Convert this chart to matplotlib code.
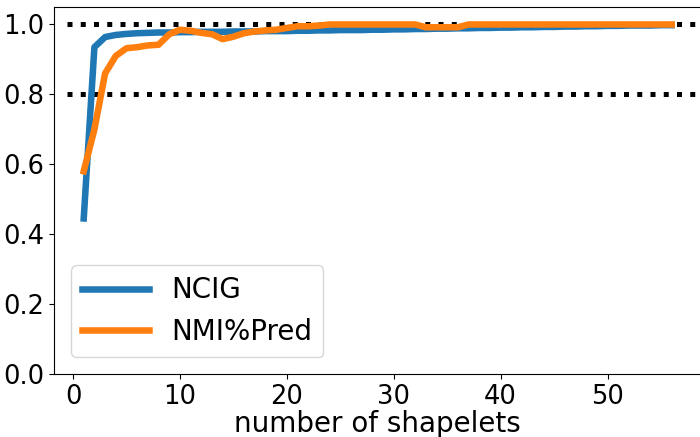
import numpy as np
import matplotlib.pyplot as plt

# число шейплетов
n_shapelets = np.arange(1, 57)

ncig = [0.445, 0.935, 0.964, 0.970, 0.973, 0.975, 0.976, 0.977, 0.977, 0.978,
        0.978, 0.979, 0.979, 0.979, 0.980, 0.980, 0.980, 0.981, 0.981, 0.981,
        0.982, 0.982, 0.983, 0.983, 0.984, 0.984, 0.984, 0.985, 0.985, 0.986,
        0.986, 0.987, 0.987, 0.988, 0.988, 0.989, 0.989, 0.990, 0.990, 0.991,
        0.991, 0.992, 0.992, 0.993, 0.993, 0.994, 0.994, 0.995, 0.995, 0.996,
        0.996, 0.997, 0.997, 0.997, 0.998, 0.998]

nmi_pred = [0.58, 0.70, 0.86, 0.91, 0.932, 0.935, 0.94, 0.942, 0.972, 0.985,
            0.982, 0.976, 0.972, 0.958, 0.965, 0.975, 0.98, 0.983, 0.985, 0.99,
            0.995, 0.995, 0.997, 1.0, 1.0, 1.0, 1.0, 1.0, 1.0, 1.0,
            1.0, 1.0, 0.992, 0.992, 0.992, 0.992, 1.0, 1.0, 1.0, 1.0,
            1.0, 1.0, 1.0, 1.0, 1.0, 1.0, 1.0, 1.0, 1.0, 1.0,
            1.0, 1.0, 1.0, 1.0, 1.0, 1.0]

thresholds = [0.8, 1.0]

fig = plt.figure(figsize=(7, 4.37), dpi=100)
ax = fig.add_axes([0.0776, 0.1442, 0.924, 0.8398])

for t in thresholds:
    ax.axhline(t, xmin=0.02, color='black', linestyle=':', linewidth=3.6)

ax.plot(n_shapelets, ncig, color='#1f77b4', linewidth=4.7, label='NCIG')
ax.plot(n_shapelets, nmi_pred, color='#ff7f0e', linewidth=4.7, label='NMI%Pred')

ax.set_xlim(-1.75, 58.75)
ax.set_ylim(0, 1.05)
ax.set_xticks([0, 10, 20, 30, 40, 50])
ax.set_yticks([0.0, 0.2, 0.4, 0.6, 0.8, 1.0])
ax.tick_params(labelsize=18.5)
ax.set_xlabel("number of shapelets", fontsize=20, labelpad=0)
ax.legend(loc='lower left', fontsize=20, borderaxespad=0.6, handlelength=2.4)

plt.savefig("out.png", dpi=100)
